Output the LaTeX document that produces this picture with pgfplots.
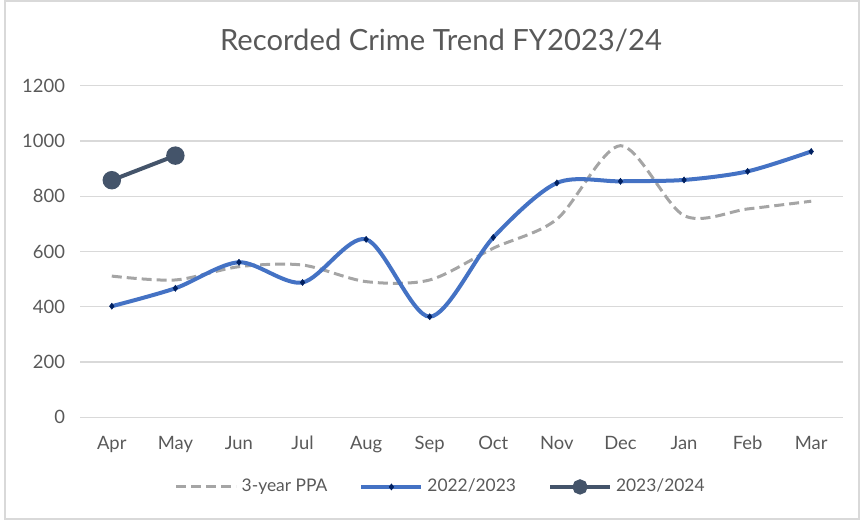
\documentclass[border=0pt]{standalone}
\usepackage{fontspec}
\setmainfont{Lato}
\usepackage{pgfplots}
\pgfplotsset{compat=1.18}
\definecolor{txt}{HTML}{595959}
\definecolor{grid}{HTML}{D9D9D9}
\definecolor{ppa}{HTML}{A5A5A5}
\definecolor{blu}{HTML}{4472C4}
\definecolor{navy}{HTML}{002060}
\definecolor{slate}{HTML}{44546A}
\begin{document}
\begin{tikzpicture}[x=1pt,y=1pt]
\path[use as bounding box] (0,0) rectangle (430,260);
\draw[color=grid, line width=0.6pt] (2.5,0.5) rectangle (429.5,259.5);
\node[text=txt, font=\fontsize{14.6}{17}\selectfont] at (220.5,240) {Recorded Crime Trend FY2023/24};
\begin{axis}[
  at={(40pt,51.35pt)}, anchor=south west,
  scale only axis, width=381.5pt, height=165.8pt,
  xmin=-0.5, xmax=11.5, ymin=0, ymax=1200,
  xtick={0,...,11},
  xticklabels={Apr,May,Jun,Jul,Aug,Sep,Oct,Nov,Dec,Jan,Feb,Mar},
  ytick={0,200,...,1200},
  /pgf/number format/assume math mode=true,
  /pgf/number format/1000 sep={},
  ymajorgrids, major grid style={color=grid, line width=0.6pt},
  axis line style={draw=none},
  axis x line*=bottom, axis y line*=left,
  major tick length=0pt,
  tick label style={text=txt, font=\fontsize{9.2}{11}\selectfont},
  yticklabel style={xshift=-4pt},
  xticklabel style={yshift=-6pt},
  clip=false,
  legend columns=3,
  legend style={at={(0.474,-0.21)}, anchor=center, draw=none, fill=none,
    font=\fontsize{8.7}{11}\selectfont, text=txt,
    /tikz/every even column/.append style={column sep=14pt}},
  legend image code/.code={\draw[#1] (0pt,0pt) -- (30pt,0pt);
    \draw[#1, only marks] plot coordinates {(15pt,0pt)};},
]
\draw[color=grid, line width=0.6pt] (axis cs:-0.5,0) -- (axis cs:11.5,0);
\addplot[color=ppa, line width=1.5pt, dash pattern=on 5pt off 2.5pt, smooth, tension=0.5, mark=none]
  coordinates {(0,511)(1,497)(2,545)(3,551)(4,491)(5,497)(6,612)(7,717)(8,983)(9,730)(10,754)(11,782)};
\addlegendentry{3-year PPA}
\addplot[color=blu, line width=2pt, smooth, tension=0.5, mark=diamond*, mark size=1.5pt,
  mark options={fill=navy, draw=navy, line width=0.3pt}]
  coordinates {(0,402)(1,467)(2,561)(3,488)(4,644)(5,364)(6,651)(7,848)(8,854)(9,859)(10,890)(11,962)};
\addlegendentry{2022/2023}
\addplot[color=slate, line width=2pt, mark=*, mark size=3.6pt, mark options={fill=slate, draw=slate},
  legend image post style={mark size=2.8pt}]
  coordinates {(0,858)(1,947)};
\addlegendentry{2023/2024}
\end{axis}
\end{tikzpicture}
\end{document}
